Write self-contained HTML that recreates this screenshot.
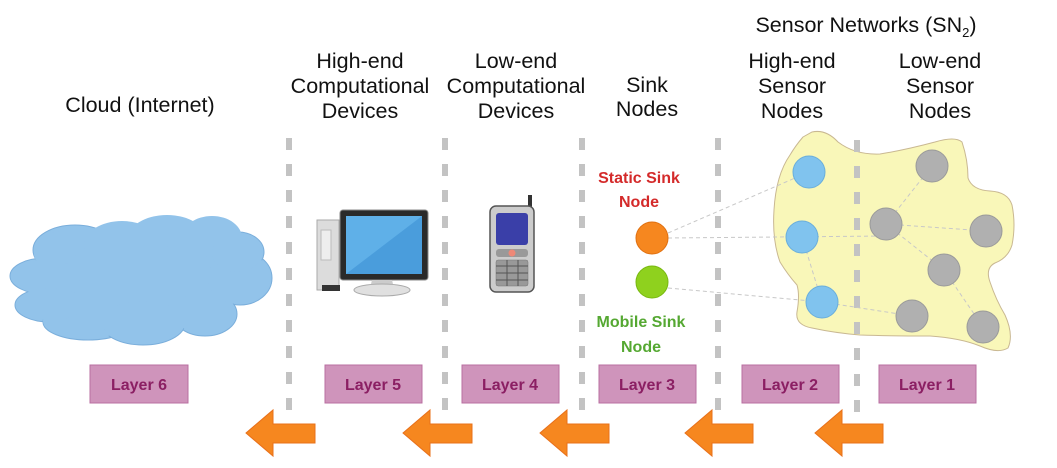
<!DOCTYPE html>
<html><head><meta charset="utf-8"><style>
html,body{margin:0;padding:0;background:#fff;}
svg{display:block;font-family:"Liberation Sans",Arial,sans-serif;}
</style></head><body>
<svg width="1057" height="468" viewBox="0 0 1057 468" xmlns="http://www.w3.org/2000/svg">
<!-- cloud -->
<g fill="#92c3ea" stroke="#7aaedb" stroke-width="1">
<ellipse cx="45" cy="276" rx="35" ry="18"/>
<ellipse cx="50" cy="305" rx="35" ry="17"/>
<ellipse cx="88" cy="322" rx="45" ry="18"/>
<ellipse cx="75" cy="250" rx="42" ry="25"/>
<ellipse cx="240" cy="278" rx="32" ry="27"/>
<ellipse cx="205" cy="314" rx="32" ry="22"/>
<ellipse cx="238" cy="252" rx="26" ry="20"/>
<ellipse cx="143" cy="323" rx="42" ry="22"/>
</g>
<g fill="#92c3ea">
<ellipse cx="75" cy="253" rx="41" ry="24"/>
<ellipse cx="122" cy="245" rx="38" ry="24"/>
<ellipse cx="167" cy="240" rx="40" ry="25"/>
<ellipse cx="212" cy="238" rx="30" ry="22"/>
<ellipse cx="140" cy="285" rx="95" ry="40"/>
<ellipse cx="87" cy="321" rx="44" ry="17"/>
<ellipse cx="143" cy="322" rx="41" ry="21"/>
<ellipse cx="205" cy="313" rx="31" ry="21"/>
<ellipse cx="239" cy="278" rx="31" ry="26"/>
<ellipse cx="237" cy="253" rx="25" ry="19"/>
<ellipse cx="46" cy="277" rx="34" ry="17"/>
<ellipse cx="51" cy="304" rx="34" ry="16"/>
</g>
<!-- sensor blob -->
<path d="M803 137 L812 132 Q826 129 838 142 Q855 155 880 154 Q905 150 935 142 Q955 136 962 142 Q968 160 968 178 Q972 190 990 191 Q1008 192 1012 205 Q1016 225 1012 245 Q1008 258 995 263 Q985 268 990 282 Q996 300 1005 315 Q1014 335 1008 348 Q998 354 980 346 Q960 338 930 336 Q890 336 860 335 Q835 333 812 328 Q795 325 797 312 Q800 295 797 285 Q788 275 780 262 Q772 240 774 210 Q776 175 790 155 Q796 145 803 137 Z" fill="#f9f7b9" stroke="#c9b892" stroke-width="1"/>
<!-- dashed lines -->
<g stroke="#c3c3c3" stroke-width="6" stroke-dasharray="12 14">
<line x1="289" y1="138" x2="289" y2="412"/>
<line x1="445" y1="138" x2="445" y2="412"/>
<line x1="582" y1="138" x2="582" y2="412"/>
<line x1="718" y1="138" x2="718" y2="412"/>
<line x1="857" y1="140" x2="857" y2="412"/>
</g>
<!-- thin dashed links -->
<g stroke="#c8c8c8" stroke-width="1" stroke-dasharray="4 3" fill="none">
<line x1="668" y1="233" x2="809" y2="172"/>
<line x1="668" y1="238" x2="886" y2="236"/>
<line x1="668" y1="288" x2="822" y2="302"/>
<line x1="802" y1="237" x2="822" y2="302"/>
<line x1="822" y1="302" x2="912" y2="316"/>
<line x1="886" y1="224" x2="932" y2="166"/>
<line x1="886" y1="224" x2="986" y2="231"/>
<line x1="886" y1="224" x2="944" y2="270"/>
<line x1="944" y1="270" x2="983" y2="327"/>
</g>
<g fill="#80c3ee" stroke="#6aaedb" stroke-width="1">
<circle cx="809" cy="172" r="16"/>
<circle cx="802" cy="237" r="16"/>
<circle cx="822" cy="302" r="16"/>
</g>
<g fill="#b0b0b0" stroke="#9a9a9a" stroke-width="1">
<circle cx="932" cy="166" r="16"/>
<circle cx="886" cy="224" r="16"/>
<circle cx="986" cy="231" r="16"/>
<circle cx="944" cy="270" r="16"/>
<circle cx="912" cy="316" r="16"/>
<circle cx="983" cy="327" r="16"/>
</g>
<!-- sink nodes -->
<circle cx="652" cy="238" r="16" fill="#f6871f" stroke="#e07010"/>
<circle cx="652" cy="282" r="16" fill="#8fd11e" stroke="#78b810"/>
<!-- computer -->
<rect x="317" y="220" width="22" height="70" fill="#dcdcdc" stroke="#aaa"/>
<rect x="321" y="230" width="10" height="30" fill="#eee" stroke="#bbb"/>
<rect x="322" y="285" width="18" height="6" fill="#333"/>
<rect x="340" y="210" width="88" height="70" rx="3" fill="#2a2a2a" stroke="#888"/>
<rect x="346" y="216" width="76" height="58" fill="#5fb0e8"/>
<path d="M346 274 L422 216 L422 274 Z" fill="#4a9ddc"/>
<path d="M372 280 L392 280 L394 288 L370 288 Z" fill="#ccc"/>
<ellipse cx="382" cy="290" rx="28" ry="6" fill="#e0e0e0" stroke="#aaa"/>
<!-- phone -->
<rect x="528" y="195" width="4" height="18" fill="#333"/>
<rect x="490" y="206" width="44" height="86" rx="6" fill="#ccc" stroke="#555" stroke-width="1.5"/>
<rect x="496" y="213" width="32" height="32" rx="3" fill="#3a3fa8"/>
<rect x="496" y="249" width="32" height="8" rx="3" fill="#999"/>
<circle cx="512" cy="253" r="3.5" fill="#e87"/>
<rect x="496" y="260" width="32" height="26" rx="2" fill="#999" stroke="#777" stroke-width="0.5"/>
<g stroke="#555" stroke-width="1">
<line x1="496" y1="266" x2="528" y2="266"/><line x1="496" y1="273" x2="528" y2="273"/><line x1="496" y1="280" x2="528" y2="280"/>
<line x1="507" y1="260" x2="507" y2="286"/><line x1="518" y1="260" x2="518" y2="286"/>
</g>
<!-- headings -->
<g font-size="21.5" fill="#111" text-anchor="middle">
<text x="140" y="112">Cloud (Internet)</text>
<text x="360" y="68">High-end</text><text x="360" y="93">Computational</text><text x="360" y="118">Devices</text>
<text x="516" y="68">Low-end</text><text x="516" y="93">Computational</text><text x="516" y="118">Devices</text>
<text x="647" y="92">Sink</text><text x="647" y="116">Nodes</text>
<text x="792" y="68">High-end</text><text x="792" y="93">Sensor</text><text x="792" y="118">Nodes</text>
<text x="940" y="68">Low-end</text><text x="940" y="93">Sensor</text><text x="940" y="118">Nodes</text>
<text x="866" y="32">Sensor Networks (SN<tspan font-size="13" dy="5">2</tspan><tspan dy="-5">)</tspan></text>
</g>
<g font-size="16" font-weight="bold" text-anchor="middle">
<text x="639" y="183" fill="#d42a2a">Static Sink</text><text x="639" y="207" fill="#d42a2a">Node</text>
<text x="641" y="327" fill="#55a832">Mobile Sink</text><text x="641" y="352" fill="#55a832">Node</text>
</g>
<!-- layer boxes -->
<g fill="#cf94bb" stroke="#b86fa0" stroke-width="1">
<rect x="90" y="365" width="98" height="38"/>
<rect x="325" y="365" width="97" height="38"/>
<rect x="462" y="365" width="97" height="38"/>
<rect x="599" y="365" width="97" height="38"/>
<rect x="742" y="365" width="97" height="38"/>
<rect x="879" y="365" width="97" height="38"/>
</g>
<g font-size="16" font-weight="bold" fill="#8b1f63" text-anchor="middle">
<text x="139" y="390">Layer 6</text>
<text x="373" y="390">Layer 5</text>
<text x="510" y="390">Layer 4</text>
<text x="647" y="390">Layer 3</text>
<text x="790" y="390">Layer 2</text>
<text x="927" y="390">Layer 1</text>
</g>
<!-- arrows -->
<g fill="#f6871f" stroke="#e8701a" stroke-width="1">
<path d="M246 433 L273 410 L273 424 L315 424 L315 443 L273 443 L273 456 Z"/>
<path d="M403 433 L430 410 L430 424 L472 424 L472 443 L430 443 L430 456 Z"/>
<path d="M540 433 L567 410 L567 424 L609 424 L609 443 L567 443 L567 456 Z"/>
<path d="M685 433 L712 410 L712 424 L753 424 L753 443 L712 443 L712 456 Z"/>
<path d="M815 433 L842 410 L842 424 L883 424 L883 443 L842 443 L842 456 Z"/>
</g>
</svg>
</body></html>
